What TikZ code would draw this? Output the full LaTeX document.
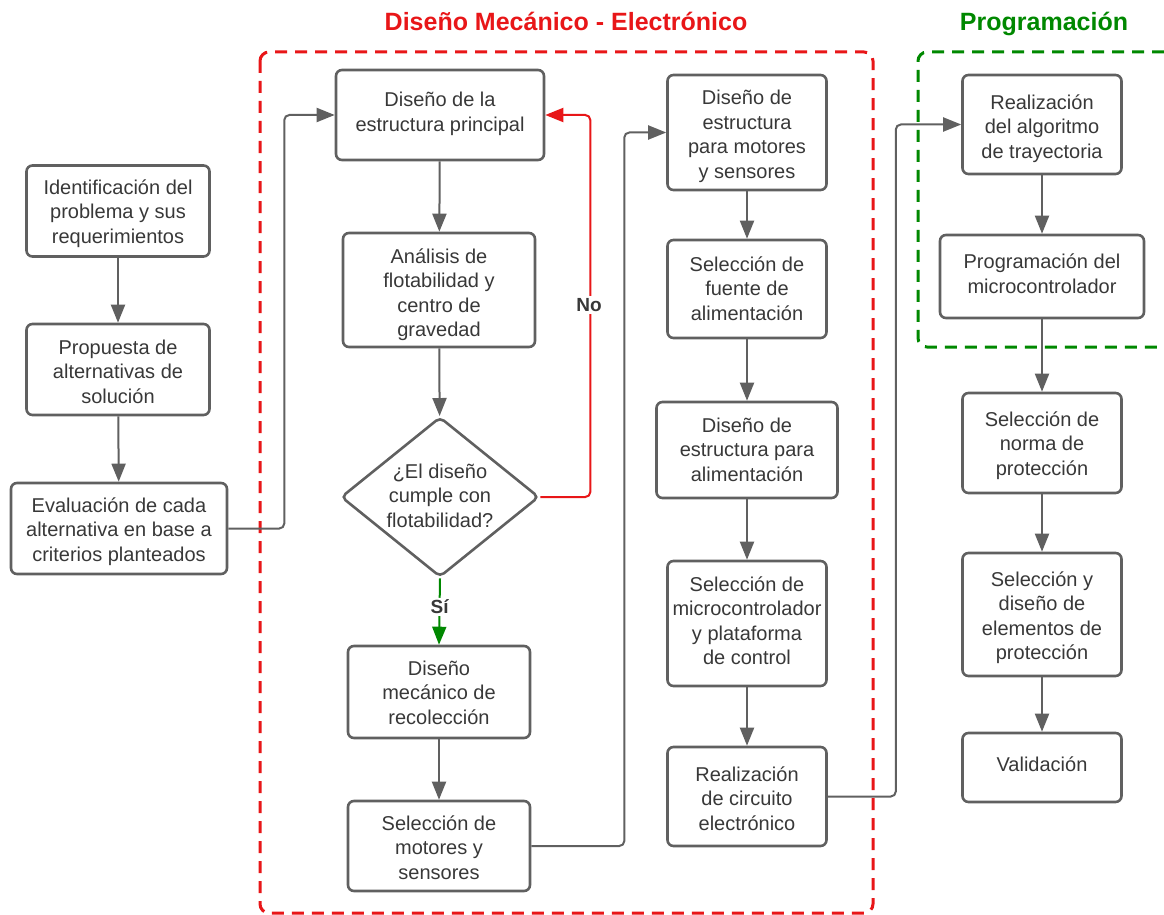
\documentclass[tikz,border=0pt]{standalone}
\usepackage{fontspec}
\setmainfont{Liberation Sans}
\usetikzlibrary{arrows.meta,shapes.geometric}
\definecolor{boxline}{RGB}{96,96,96}
\definecolor{txt}{RGB}{56,56,56}
\definecolor{myred}{RGB}{232,22,24}
\definecolor{mygreen}{RGB}{0,136,0}
% text block whose first baseline sits #1 above the node centre
\newcommand{\tlines}[2]{\raisebox{#1}[0pt][0pt]{\begin{tabular}[t]{@{}c@{}}#2\end{tabular}}}
\begin{document}
\begin{tikzpicture}[x=1pt,y=-1pt,
  box/.style={draw=boxline, line width=2.6pt, rounded corners=6pt,
    text=txt, font=\fontsize{20}{24.5}\selectfont, inner sep=0pt},
  conn/.style={draw=boxline, line width=2pt, rounded corners=5pt,
    -{Triangle[length=18pt,width=14pt]}},
  lbl/.style={font=\bfseries\fontsize{19}{22}\selectfont, text=txt, fill=white, inner sep=2pt},
  title/.style={font=\bfseries\fontsize{25}{28}\selectfont, anchor=base},
  grp/.style={line width=3pt, dash pattern=on 12pt off 8pt, rounded corners=9pt}
]
\useasboundingbox (0,0) rectangle (1164,915);

% group frames
\draw[grp, myred] (260,52) rectangle (873,913);
\draw[grp, mygreen] (1164,52) -- (918,52) -- (918,347) -- (1164,347);
\node[title, text=myred] (t1) at (566,31) {Diseño Mecánico - Electrónico};
\node[title, text=mygreen] (t2) at (1044,31) {Programación};

% left column
\node[box, minimum width=183pt, minimum height=91pt] (n1) at (118,211) {\tlines{17pt}{Identificación del\\problema y sus\\requerimientos}};
\node[box, minimum width=183pt, minimum height=91pt] (n2) at (118,369.5) {\tlines{15.5pt}{Propuesta de\\alternativas de\\solución}};
\node[box, minimum width=216pt, minimum height=91pt] (n3) at (119,528.5) {\tlines{16.5pt}{Evaluación de cada\\alternativa en base a\\criterios planteados}};

% second column
\node[box, minimum width=208pt, minimum height=90pt] (a1) at (440,115) {\tlines{8pt}{Diseño de la\\estructura principal}};
\node[box, minimum width=192pt, minimum height=114pt] (a2) at (439,290) {\tlines{27pt}{Análisis de\\flotabilidad y\\centro de\\gravedad}};
\node[box, shape=diamond, rounded corners=5pt, aspect=1.2375, minimum width=198pt, minimum height=160pt] (d) at (440,497) {\tlines{19pt}{¿El diseño\\cumple con\\flotabilidad?}};
\node[box, minimum width=182pt, minimum height=92pt] (a3) at (439,692) {\tlines{17pt}{Diseño\\mecánico de\\recolección}};
\node[box, minimum width=182pt, minimum height=90pt] (a4) at (439,846) {\tlines{16pt}{Selección de\\motores y\\sensores}};

% third column
\node[box, minimum width=159pt, minimum height=115pt] (b1) at (747,132.5) {\tlines{28pt}{Diseño de\\estructura\\para motores\\y sensores}};
\node[box, minimum width=159pt, minimum height=98pt] (b2) at (747,289) {\tlines{18pt}{Selección de\\fuente de\\alimentación}};
\node[box, minimum width=181pt, minimum height=96pt] (b3) at (747,450) {\tlines{18pt}{Diseño de\\estructura para\\alimentación}};
\node[box, minimum width=159pt, minimum height=125pt] (b4) at (747,623.5) {\tlines{32.5pt}{Selección de\\microcontrolador\\y plataforma\\de control}};
\node[box, minimum width=159pt, minimum height=99pt] (b5) at (747,796.5) {\tlines{15.5pt}{Realización\\de circuito\\electrónico}};

% fourth column
\node[box, minimum width=159pt, minimum height=99pt] (c1) at (1042,124.5) {\tlines{15pt}{Realización\\del algoritmo\\de trayectoria}};
\node[box, minimum width=204pt, minimum height=83pt] (c2) at (1042,276.5) {\tlines{8pt}{Programación del\\microcontrolador}};
\node[box, minimum width=159pt, minimum height=100pt] (c3) at (1042,443) {\tlines{17pt}{Selección de\\norma de\\protección}};
\node[box, minimum width=159pt, minimum height=123pt] (c4) at (1042,614.5) {\tlines{28.5pt}{Selección y\\diseño de\\elementos de\\protección}};
\node[box, minimum width=159pt, minimum height=69pt] (c5) at (1042,767.5) {\tlines{-3.5pt}{Validación}};

% connectors
\draw[conn] (n1) -- (n2);
\draw[conn] (n2) -- (n3);
\draw[conn] (n3.east) -- ++(56,0) |- (a1.west);
\draw[conn] (a1) -- (a2);
\draw[conn] (a2) -- (d);
\draw[conn, draw=myred] (d.east) -- ++(50,0) |- (a1.east);
\node[lbl] (no) at (589,305) {No};
\draw[conn, draw=mygreen] (d.south) -- node[lbl, pos=0.43] (si) {Sí} (a3.north);
\draw[conn] (a3) -- (a4);
\draw[conn] (a4.east) -- ++(93,0) |- (b1.west);
\draw[conn] (b1) -- (b2);
\draw[conn] (b2) -- (b3);
\draw[conn] (b3) -- (b4);
\draw[conn] (b4) -- (b5);
\draw[conn] (b5.east) -- ++(68,0) |- (c1.west);
\draw[conn] (c1) -- (c2);
\draw[conn] (c2) -- (c3);
\draw[conn] (c3) -- (c4);
\draw[conn] (c4) -- (c5);
\end{tikzpicture}
\end{document}
